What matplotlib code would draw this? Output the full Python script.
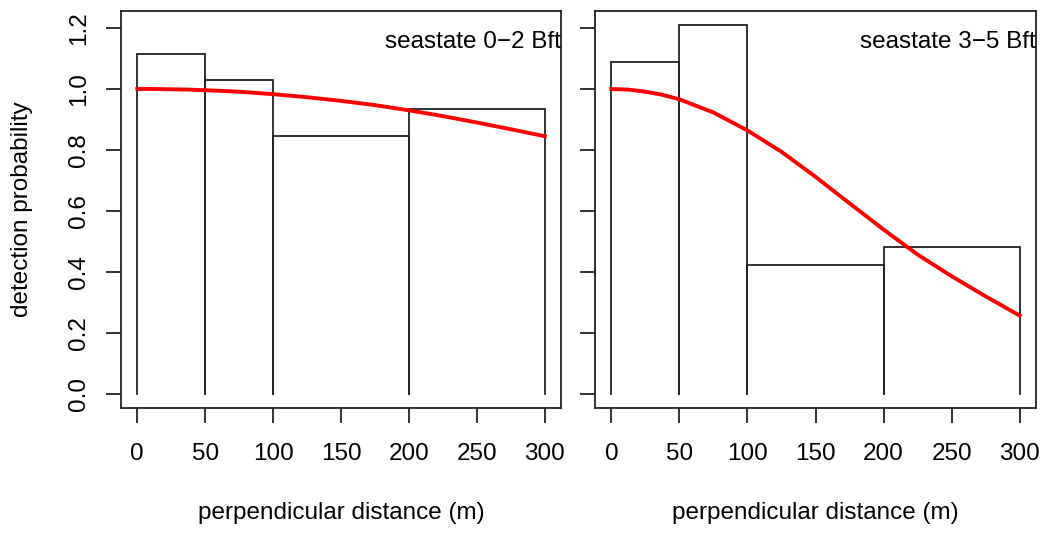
import matplotlib
matplotlib.use("Agg")
import matplotlib.pyplot as plt

plt.rcParams['font.family'] = ['Liberation Sans', 'DejaVu Sans']

# histogram bins (perpendicular distance, m)
breaks = [0, 50, 100, 200, 300]
heights_calm = [1.115, 1.03, 0.845, 0.933]
heights_rough = [1.089, 1.21, 0.424, 0.483]

# fitted detection function
curve_x = [0, 12.5, 25, 37.5, 50, 75, 100, 125, 150, 175, 200, 225, 250, 275, 300]
curve_calm = [1.0, 1.0, 0.999, 0.998, 0.996, 0.991, 0.983, 0.973, 0.961, 0.947, 0.930, 0.911, 0.890, 0.868, 0.845]
curve_rough = [1.0, 0.998, 0.991, 0.981, 0.966, 0.923, 0.864, 0.794, 0.712, 0.625, 0.539, 0.457, 0.386, 0.320, 0.257]

titles = ["seastate 0\u22122 Bft", "seastate 3\u22125 Bft"]

fig = plt.figure(figsize=(10.43, 5.34), dpi=100)
ax1 = fig.add_axes([0.116, 0.236, 0.422, 0.743])
ax2 = fig.add_axes([0.5705, 0.236, 0.4228, 0.743])

lc = '#222222'
fs = 17.5
for ax, h, cy, title in [(ax1, heights_calm, curve_calm, titles[0]),
                         (ax2, heights_rough, curve_rough, titles[1])]:
    # histogram outline, no baseline
    for i in range(len(h)):
        l, r = breaks[i], breaks[i + 1]
        ax.plot([l, l, r, r], [0, h[i], h[i], 0], color=lc, lw=1.3, solid_joinstyle='miter')
    ax.plot(curve_x, cy, color='#ff0000', lw=2.8)
    ax.set_xlim(-12, 312)
    ax.set_ylim(-0.046, 1.255)
    ax.set_xticks([0, 50, 100, 150, 200, 250, 300])
    ax.set_yticks([0.0, 0.2, 0.4, 0.6, 0.8, 1.0, 1.2])
    ax.tick_params(length=11, width=1.3, color=lc, labelsize=fs, pad=14)
    for s in ax.spines.values():
        s.set_linewidth(1.3)
        s.set_color(lc)
    ax.set_xlabel("perpendicular distance (m)", fontsize=fs, labelpad=27)
    ax.text(1.0, 0.922, title, transform=ax.transAxes, ha='right', va='center', fontsize=fs)

ax1.set_yticklabels(["0.0", "0.2", "0.4", "0.6", "0.8", "1.0", "1.2"], rotation=90, va='center')
ax1.tick_params(axis='y', pad=11)
ax2.set_yticklabels([])

fig.text(0.021, 0.608, "detection probability", rotation=90, ha='center', va='center', fontsize=fs)

fig.savefig("out.png", dpi=100)
